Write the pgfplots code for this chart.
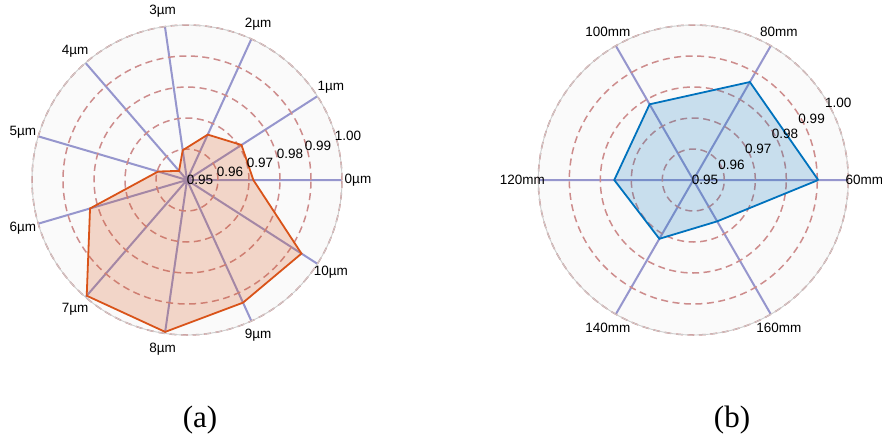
\documentclass[border=0pt]{standalone}
\usepackage{fontspec}
\setmainfont{Liberation Serif}
\setsansfont{Liberation Sans}
\usepackage{pgfplots}
\pgfplotsset{compat=1.18}
\usepgfplotslibrary{polar}
\usepackage{pgfplotstable}
\definecolor{spoke}{RGB}{150,150,205}
\definecolor{ring}{RGB}{205,140,140}
\definecolor{rimc}{RGB}{205,205,205}
\definecolor{bgc}{RGB}{250,250,250}
\definecolor{orangeL}{HTML}{D95319}
\definecolor{blueL}{HTML}{0072BD}

\pgfplotstableread{
a v
0 0.9714
32.7273 0.9709
65.4545 0.9661
98.1818 0.9597
130.9091 0.9539
163.6364 0.9597
196.3636 0.9826
229.0909 0.9994
261.8182 0.9995
294.5455 0.9935
327.2727 0.9939
360 0.9714
}\dataA

\pgfplotstableread{
a v
0 0.9903
60 0.9865
120 0.9782
180 0.9755
240 0.9719
300 0.9654
360 0.9903
}\dataB

\pgfplotsset{radar/.style={
  scale only axis, width=310pt, height=310pt, anchor=center,
  xmin=0, xmax=360, ymin=0, ymax=5,
  ytick={1,2,3,4,5}, yticklabels={},
  xmajorgrids, ymajorgrids,
  x grid style={spoke, line width=2pt},
  y grid style={ring, line width=1.5pt, dash pattern=on 7pt off 4.5pt},
  x axis line style={rimc, line width=0.9pt},
  y axis line style={draw=none},
  major tick length=0pt,
  tick style={draw=none},
  clip=false,
  xticklabel style={font=\fontsize{13.5}{15}\selectfont\sffamily, anchor=center, shift={(\tick:16pt)}},
}}

\begin{document}
\begin{tikzpicture}
\useasboundingbox (0,0) rectangle (882pt,440pt);
\fill[bgc] (187pt,260pt) circle[radius=155pt];
\fill[bgc] (693.3pt,260pt) circle[radius=155pt];

\begin{polaraxis}[radar, at={(187pt,260pt)},
  xtick={0,32.7273,65.4545,98.1818,130.9091,163.6364,196.3636,229.0909,261.8182,294.5455,327.2727},
  xticklabels={0µm,1µm,2µm,3µm,4µm,5µm,6µm,7µm,8µm,9µm,10µm}]
\addplot[draw=orangeL, line width=1.8pt, fill=orangeL, fill opacity=0.22, mark=none]
  table[x=a, y expr=(\thisrow{v}-0.95)*100] {\dataA};
\begin{scope}[every node/.style={font=\fontsize{13.5}{15}\selectfont\sffamily, inner sep=0pt}]
\node at (axis cs:0,0.419) {0.95};
\node at (axis cs:10.9,1.413) {0.96};
\node at (axis cs:13.3,2.419) {0.97};
\node at (axis cs:14.2,3.426) {0.98};
\node at (axis cs:14.8,4.371) {0.99};
\node at (axis cs:15.3,5.384) {1.00};
\end{scope}
\end{polaraxis}

\begin{polaraxis}[radar, at={(693.3pt,260pt)},
  xtick={0,60,120,180,240,300},
  xticklabels={60mm,80mm,100mm,120mm,140mm,160mm}]
\addplot[draw=blueL, line width=1.8pt, fill=blueL, fill opacity=0.2, mark=none]
  table[x=a, y expr=(\thisrow{v}-0.95)*100] {\dataB};
\begin{scope}[every node/.style={font=\fontsize{13.5}{15}\selectfont\sffamily, inner sep=0pt}]
\node at (axis cs:0,0.377) {0.95};
\node at (axis cs:21.4,1.326) {0.96};
\node at (axis cs:25.3,2.319) {0.97};
\node at (axis cs:26.6,3.31) {0.98};
\node at (axis cs:27.5,4.303) {0.99};
\node at (axis cs:28.1,5.3) {1.00};
\end{scope}
\end{polaraxis}

\node[font=\fontsize{31}{36}\selectfont] at (200pt,20pt) {(a)};
\node[font=\fontsize{31}{36}\selectfont] at (732pt,20pt) {(b)};
\end{tikzpicture}
\end{document}
